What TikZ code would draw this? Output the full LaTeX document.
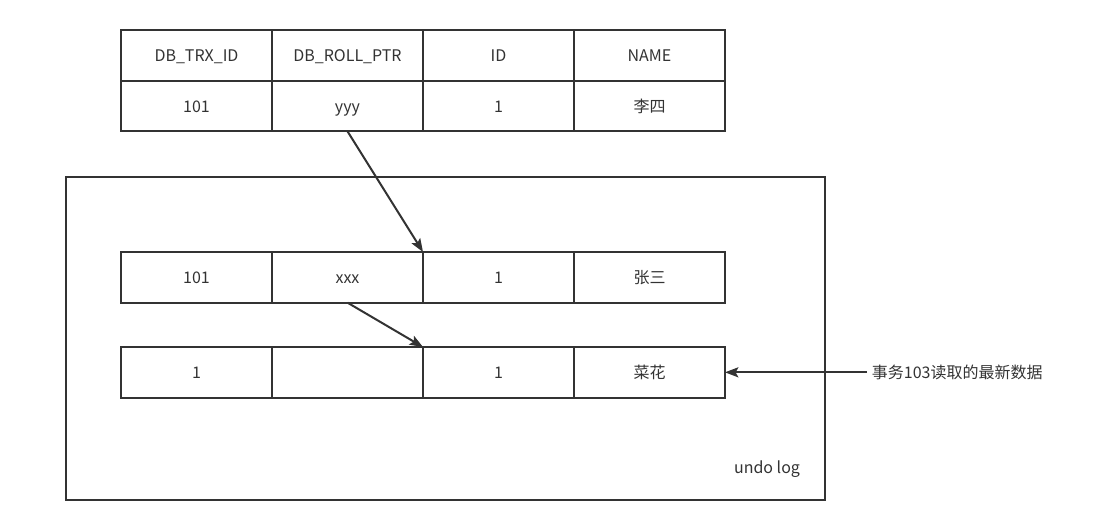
\documentclass[tikz,border=0pt]{standalone}
\usepackage{fontspec}
\setmainfont{Noto Sans CJK SC}
\usepackage{tikz}
\usetikzlibrary{arrows.meta,positioning}
\definecolor{mvline}{HTML}{333333}
\definecolor{mvtext}{HTML}{333333}
\tikzset{
  cell/.style={draw=mvline,line width=1.5pt,minimum width=113.25pt,minimum height=38pt,
               inner sep=0pt,outer sep=0pt,text height=10pt,text depth=0.5pt,
               font=\fontsize{12}{14}\selectfont,text=mvtext},
  logbox/.style={draw=mvline,line width=1.5pt,minimum width=569.25pt,minimum height=242.25pt,
                 inner sep=0pt,outer sep=0pt},
  ptr/.style={-{Stealth[length=10pt,width=7.5pt,inset=2pt]},line width=1.5pt,draw=mvline},
  note/.style={font=\fontsize{12}{14}\selectfont,text=mvtext,inner sep=3.5pt}
}
\begin{document}
\begin{tikzpicture}[x=0.75pt,y=0.75pt]
  \useasboundingbox (0,0) rectangle (1111,-524);

  % current row
  \node[cell,anchor=north west] (h1) at (121,-30) {DB\_TRX\_ID};
  \node[cell,right=0pt of h1] (h2) {DB\_ROLL\_PTR};
  \node[cell,right=0pt of h2] (h3) {ID};
  \node[cell,right=0pt of h3] (h4) {NAME};
  \node[cell,below=0pt of h1] (c1) {101};
  \node[cell,below=0pt of h2] (c2) {yyy};
  \node[cell,below=0pt of h3] (c3) {1};
  \node[cell,below=0pt of h4] (c4) {李四};

  % undo log
  \node[logbox,anchor=north west] (undo) at (66,-177) {};
  \node[cell,anchor=north west] (u1) at (121,-252) {101};
  \node[cell,right=0pt of u1] (u2) {xxx};
  \node[cell,right=0pt of u2] (u3) {1};
  \node[cell,right=0pt of u3] (u4) {张三};
  \node[cell,anchor=north west] (v1) at (121,-347) {1};
  \node[cell,right=0pt of v1] (v2) {};
  \node[cell,right=0pt of v2] (v3) {1};
  \node[cell,right=0pt of v3] (v4) {菜花};
  \node[note] (loglabel) at (767,-469) {undo log};

  \node[note,anchor=west,right=106.5pt of v4.east] (reader) {事务103读取的最新数据};

  \draw[ptr] (c2.south) -- (u3.north west);
  \draw[ptr] (u2.south) -- (v3.north west);
  \draw[ptr] (reader.west) -- (v4.east);
\end{tikzpicture}
\end{document}
